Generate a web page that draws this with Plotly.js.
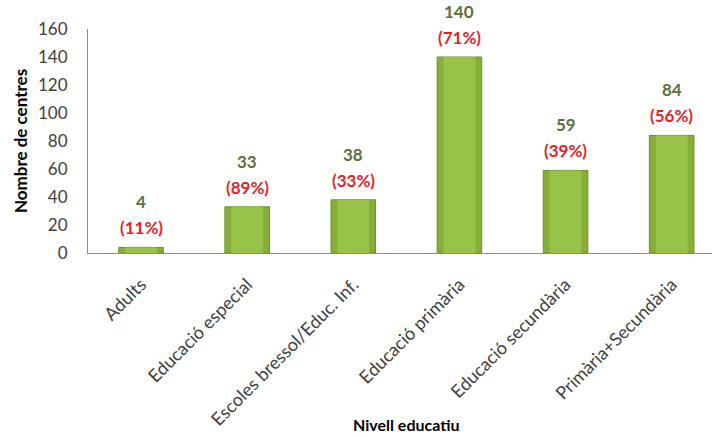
<!DOCTYPE html>
<html>
<head>
<meta charset="utf-8">
<script src="https://cdn.plot.ly/plotly-3.0.1.min.js"></script>
<style>html,body{margin:0;padding:0;background:#fff;}#chart{width:717px;height:438px;}</style>
</head>
<body>
<div id="chart"></div>
<script>
var categories = ["Adults", "Educació especial", "Escoles bressol/Educ. Inf.", "Educació primària", "Educació secundària", "Primària+Secundària"];
var centres = [4, 33, 38, 140, 59, 84];
var percentLabels = ["(11%)", "(89%)", "(33%)", "(71%)", "(39%)", "(56%)"];
var yTicks = [0, 20, 40, 60, 80, 100, 120, 140, 160];

var FONT = "Lato, 'Open Sans', sans-serif";

var barMain = {
  type: "bar",
  x: categories,
  y: centres,
  width: 0.42,
  marker: {color: "#86AE38", line: {color: "#6E8F28", width: 1}},
  hoverinfo: "skip"
};
var barHighlight = {
  type: "bar",
  x: categories,
  y: centres,
  width: 0.3,
  marker: {color: "#97C348", line: {width: 0}},
  hoverinfo: "skip"
};

var annotations = [];
categories.forEach(function(c, i){
  annotations.push({
    x: c, y: centres[i], xref: "x", yref: "y",
    text: "<b>" + percentLabels[i] + "</b>",
    showarrow: false, yanchor: "bottom", yshift: 7,
    font: {family: FONT, size: 17, color: "#E0252A"}
  });
  annotations.push({
    x: c, y: centres[i], xref: "x", yref: "y",
    text: "<b>" + centres[i] + "</b>",
    showarrow: false, yanchor: "bottom", yshift: 33,
    font: {family: FONT, size: 17, color: "#5F6F3C"}
  });
});
annotations.push({
  xref: "paper", yref: "paper", x: 0.51, y: -0.765,
  xanchor: "center", yanchor: "middle", showarrow: false,
  text: "<b>Nivell educatiu</b>",
  font: {family: FONT, size: 16, color: "#000000"}
});

var layout = {
  width: 717, height: 438,
  margin: {l: 88, r: 5, t: 29, b: 185},
  paper_bgcolor: "#ffffff", plot_bgcolor: "#ffffff",
  barmode: "overlay",
  showlegend: false,
  font: {family: FONT, size: 14, color: "#404040"},
  xaxis: {
    type: "category",
    range: [-0.5, 5.38],
    tickangle: -45,
    showline: true, linecolor: "#8C8C8C", linewidth: 1,
    showgrid: false, zeroline: false,
    ticks: "outside", ticklen: 13, tickcolor: "rgba(0,0,0,0)",
    tickfont: {family: FONT, size: 18, color: "#404040"}
  },
  yaxis: {
    range: [0, 160],
    tickmode: "array", tickvals: yTicks, ticktext: yTicks.map(String),
    showline: true, linecolor: "#8C8C8C", linewidth: 1,
    showgrid: false, zeroline: false,
    ticks: "outside", ticklen: 16, tickcolor: "rgba(0,0,0,0)",
    tickfont: {family: FONT, size: 17, color: "#404040"},
    title: {text: "<b>Nombre de centres</b>", font: {family: FONT, size: 17, color: "#000000"}, standoff: 6}
  },
  annotations: annotations
};

Plotly.newPlot("chart", [barMain, barHighlight], layout, {displayModeBar: false, staticPlot: true});
</script>
</body>
</html>
